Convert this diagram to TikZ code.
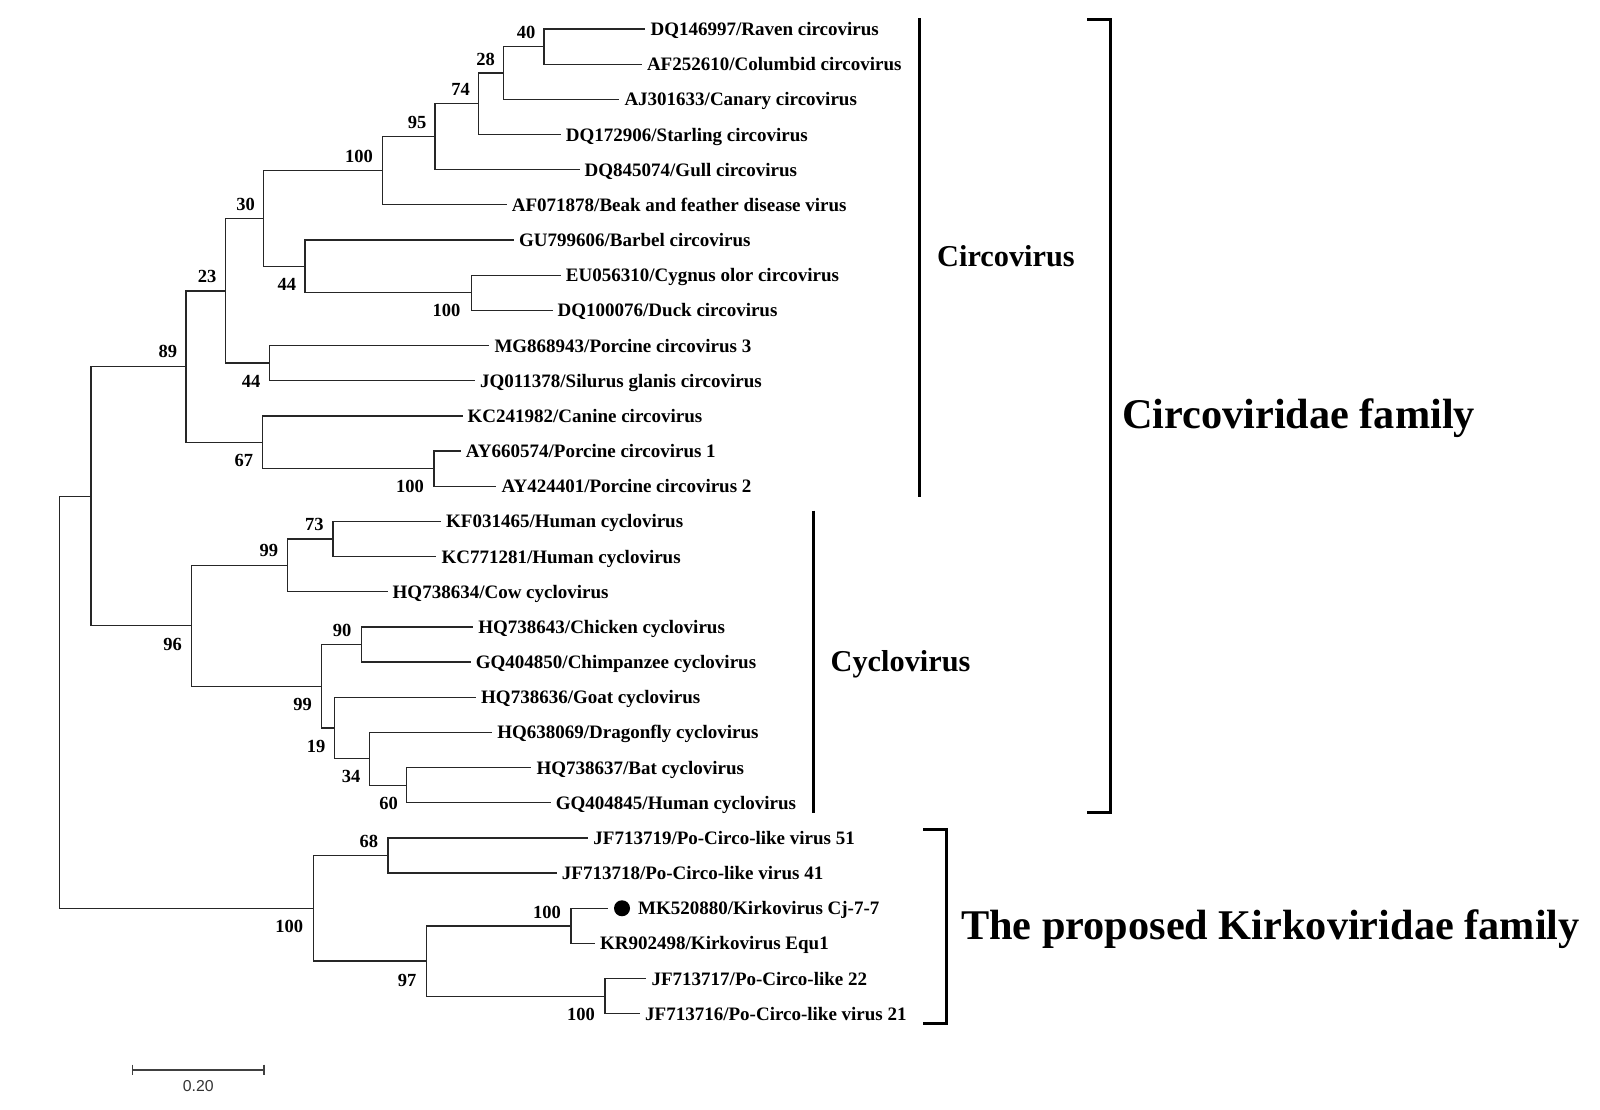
\documentclass[tikz,border=0pt]{standalone}
\usepackage{fontspec}
\setmainfont{Liberation Serif}
\newfontfamily\arialfont{Liberation Sans}
\tikzset{
  br/.style={line width=1.3pt, draw=black!85},
  leaf/.style={anchor=west, inner xsep=5pt, inner ysep=0pt, text height=13pt, text depth=0pt, font=\fontsize{19}{22}\selectfont\bfseries},
  boot/.style={inner sep=0pt, text height=12.5pt, text depth=0pt, font=\fontsize{18.5}{22}\selectfont\bfseries},
  grpbar/.style={line width=3pt, draw=black},
  grp/.style={anchor=base west, inner sep=0pt, font=\fontsize{30.3}{34}\selectfont\bfseries},
  fam/.style={anchor=base west, inner sep=0pt, font=\fontsize{42.3}{48}\selectfont\bfseries},
  sbar/.style={line width=1.4pt, draw=black!75},
}
\begin{document}
\begin{tikzpicture}[x=1pt,y=-1pt]
\fill[white] (0,0) rectangle (1600,1110);
\useasboundingbox (0,0) rectangle (1600,1110);

% ---------- leaves ----------
\node[leaf] (l0)  at (645.4,29.0)   {DQ146997/Raven circovirus};
\node[leaf] (l1)  at (641.8,64.17)  {AF252610/Columbid circovirus};
\node[leaf] (l2)  at (619.3,99.34)  {AJ301633/Canary circovirus};
\node[leaf] (l3)  at (560.7,134.51) {DQ172906/Starling circovirus};
\node[leaf] (l4)  at (579.5,169.68) {DQ845074/Gull circovirus};
\node[leaf] (l5)  at (506.7,204.85) {AF071878/Beak and feather disease virus};
\node[leaf] (l6)  at (514.0,240.02) {GU799606/Barbel circovirus};
\node[leaf] (l7)  at (560.7,275.19) {EU056310/Cygnus olor circovirus};
\node[leaf] (l8)  at (552.5,310.36) {DQ100076/Duck circovirus};
\node[leaf] (l9)  at (489.3,345.53) {MG868943/Porcine circovirus 3};
\node[leaf] (l10) at (475.0,380.70) {JQ011378/Silurus glanis circovirus};
\node[leaf] (l11) at (462.5,415.87) {KC241982/Canine circovirus};
\node[leaf] (l12) at (460.7,451.04) {AY660574/Porcine circovirus 1};
\node[leaf] (l13) at (496.4,486.21) {AY424401/Porcine circovirus 2};
\node[leaf] (l14) at (441.0,521.38) {KF031465/Human cyclovirus};
\node[leaf] (l15) at (436.4,556.55) {KC771281/Human cyclovirus};
\node[leaf] (l16) at (387.5,591.72) {HQ738634/Cow cyclovirus};
\node[leaf] (l17) at (473.2,626.89) {HQ738643/Chicken cyclovirus};
\node[leaf] (l18) at (470.7,662.06) {GQ404850/Chimpanzee cyclovirus};
\node[leaf] (l19) at (476.0,697.23) {HQ738636/Goat cyclovirus};
\node[leaf] (l20) at (492.1,732.40) {HQ638069/Dragonfly cyclovirus};
\node[leaf] (l21) at (531.4,767.57) {HQ738637/Bat cyclovirus};
\node[leaf] (l22) at (550.7,802.74) {GQ404845/Human cyclovirus};
\node[leaf] (l23) at (588.2,837.91) {JF713719/Po-Circo-like virus 51};
\node[leaf] (l24) at (556.7,873.08) {JF713718/Po-Circo-like virus 41};
\node[circle, fill=black, inner sep=0pt, minimum size=16pt, outer sep=6pt] (dot) at (622.0,908.25) {};
\node[leaf] (l25) at (633.0,908.25) {MK520880/Kirkovirus Cj-7-7};
\node[leaf] (l26) at (595.0,943.42) {KR902498/Kirkovirus Equ1};
\node[leaf] (l27) at (646.4,978.59) {JF713717/Po-Circo-like 22};
\node[leaf] (l28) at (640.0,1013.76) {JF713716/Po-Circo-like virus 21};

% ---------- internal nodes ----------
\coordinate (n40)   at (543.9,46.59);
\coordinate (n28)   at (503.6,72.96);
\coordinate (n74)   at (478.5,103.74);
\coordinate (n95)   at (435.0,136.71);
\coordinate (n100a) at (382.8,170.78);
\coordinate (nCD)   at (471.4,292.78);
\coordinate (n44a)  at (305.0,266.40);
\coordinate (n30)   at (263.6,218.59);
\coordinate (n44b)  at (269.3,363.12);
\coordinate (n23)   at (225.5,290.86);
\coordinate (nAY)   at (433.9,468.63);
\coordinate (n67)   at (262.4,442.25);
\coordinate (n89)   at (186.0,366.56);
\coordinate (n73)   at (332.9,538.97);
\coordinate (n99a)  at (287.6,565.35);
\coordinate (n90)   at (361.8,644.48);
\coordinate (n60)   at (406.8,785.16);
\coordinate (n34)   at (369.3,758.78);
\coordinate (n19)   at (334.6,728.00);
\coordinate (n99b)  at (321.4,686.24);
\coordinate (n96)   at (191.4,625.80);
\coordinate (nN2)   at (90.9,496.18);
\coordinate (n68)   at (387.9,855.50);
\coordinate (nMK)   at (570.9,925.84);
\coordinate (nJF)   at (605.0,996.18);
\coordinate (n97)   at (426.4,961.01);
\coordinate (nK)    at (313.2,908.25);
\coordinate (root)  at (59.3,702.2);

% ---------- branches ----------
\draw[br] (n40) |- (l0.west);  \draw[br] (n40) |- (l1.west);
\draw[br] (n28) |- (n40);      \draw[br] (n28) |- (l2.west);
\draw[br] (n74) |- (n28);      \draw[br] (n74) |- (l3.west);
\draw[br] (n95) |- (n74);      \draw[br] (n95) |- (l4.west);
\draw[br] (n100a) |- (n95);    \draw[br] (n100a) |- (l5.west);
\draw[br] (nCD) |- (l7.west);  \draw[br] (nCD) |- (l8.west);
\draw[br] (n44a) |- (l6.west); \draw[br] (n44a) |- (nCD);
\draw[br] (n30) |- (n100a);    \draw[br] (n30) |- (n44a);
\draw[br] (n44b) |- (l9.west); \draw[br] (n44b) |- (l10.west);
\draw[br] (n23) |- (n30);      \draw[br] (n23) |- (n44b);
\draw[br] (nAY) |- (l12.west); \draw[br] (nAY) |- (l13.west);
\draw[br] (n67) |- (l11.west); \draw[br] (n67) |- (nAY);
\draw[br] (n89) |- (n23);      \draw[br] (n89) |- (n67);
\draw[br] (n73) |- (l14.west); \draw[br] (n73) |- (l15.west);
\draw[br] (n99a) |- (n73);     \draw[br] (n99a) |- (l16.west);
\draw[br] (n90) |- (l17.west); \draw[br] (n90) |- (l18.west);
\draw[br] (n60) |- (l21.west); \draw[br] (n60) |- (l22.west);
\draw[br] (n34) |- (l20.west); \draw[br] (n34) |- (n60);
\draw[br] (n19) |- (l19.west); \draw[br] (n19) |- (n34);
\draw[br] (n99b) |- (n90);     \draw[br] (n99b) |- (n19);
\draw[br] (n96) |- (n99a);     \draw[br] (n96) |- (n99b);
\draw[br] (nN2) |- (n89);      \draw[br] (nN2) |- (n96);
\draw[br] (n68) |- (l23.west); \draw[br] (n68) |- (l24.west);
\draw[br] (nMK) |- (dot.west); \draw[br] (nMK) |- (l26.west);
\draw[br] (nJF) |- (l27.west); \draw[br] (nJF) |- (l28.west);
\draw[br] (n97) |- (nMK);      \draw[br] (n97) |- (nJF);
\draw[br] (nK) |- (n68);       \draw[br] (nK) |- (n97);
\draw[br] (root) |- (nN2);     \draw[br] (root) |- (nK);

% ---------- bootstrap values ----------
\node[boot] (b40)   at (526.0,32.3)  {40};
\node[boot] (b28)   at (485.7,59.0)  {28};
\node[boot] (b74)   at (460.7,89.3)  {74};
\node[boot] (b95)   at (417.1,122.3) {95};
\node[boot] (b100a) at (358.9,156.0) {100};
\node[boot] (b30)   at (245.7,204.0) {30};
\node[boot] (b44a)  at (286.8,284.3) {44};
\node[boot] (b100c) at (446.4,310.0) {100};
\node[boot] (b23)   at (207.1,276.0) {23};
\node[boot] (b89)   at (167.9,351.7) {89};
\node[boot] (b44b)  at (251.0,381.7) {44};
\node[boot] (b67)   at (243.9,460.0) {67};
\node[boot] (b100y) at (410.0,486.7) {100};
\node[boot] (b73)   at (314.3,524.3) {73};
\node[boot] (b99a)  at (268.9,550.7) {99};
\node[boot] (b96)   at (172.5,644.0) {96};
\node[boot] (b90)   at (342.1,630.0) {90};
\node[boot] (b99b)  at (302.5,704.0) {99};
\node[boot] (b19)   at (316.1,746.0) {19};
\node[boot] (b34)   at (351.1,776.7) {34};
\node[boot] (b60)   at (388.6,803.3) {60};
\node[boot] (b68)   at (368.9,841.7) {68};
\node[boot] (bK)    at (289.3,926.7) {100};
\node[boot] (b97)   at (407.1,980.0) {97};
\node[boot] (bMK)   at (547.0,912.0) {100};
\node[boot] (bJF)   at (581.1,1014.3) {100};

% ---------- group bars and labels ----------
\draw[grpbar] (919.6,18.3) -- (919.6,496.7);
\node[grp] (circo) at (937.0,266.7) {Circovirus};
\draw[grpbar] (813.2,510.7) -- (813.2,813.3);
\node[grp] (cyclo) at (830.5,671.5) {Cyclovirus};
\draw[grpbar] (1087.3,19.3) -- (1110,19.3) -- (1110,812.7) -- (1087.3,812.7);
\node[fam] (circofam) at (1122.0,428.3) {Circoviridae family};
\draw[grpbar] (923.2,829.0) -- (946,829.0) -- (946,1023.0) -- (923.2,1023.0);
\node[fam] (kirkofam) at (961.0,939.0) {The proposed Kirkoviridae family};

% ---------- scale bar ----------
\coordinate (sbL) at (132.7,1070);
\coordinate (sbR) at (264.0,1070);
\draw[sbar] (sbL) -- (sbR);
\draw[sbar] ([yshift=5.3pt]sbL) -- ([yshift=-5.3pt]sbL);
\draw[sbar] ([yshift=5.3pt]sbR) -- ([yshift=-5.3pt]sbR);
\node[inner sep=0pt, text=black!80, font=\arialfont\fontsize{15.8}{18}\selectfont] (sblab) at (198.3,1085.7) {0.20};
\end{tikzpicture}
\end{document}
